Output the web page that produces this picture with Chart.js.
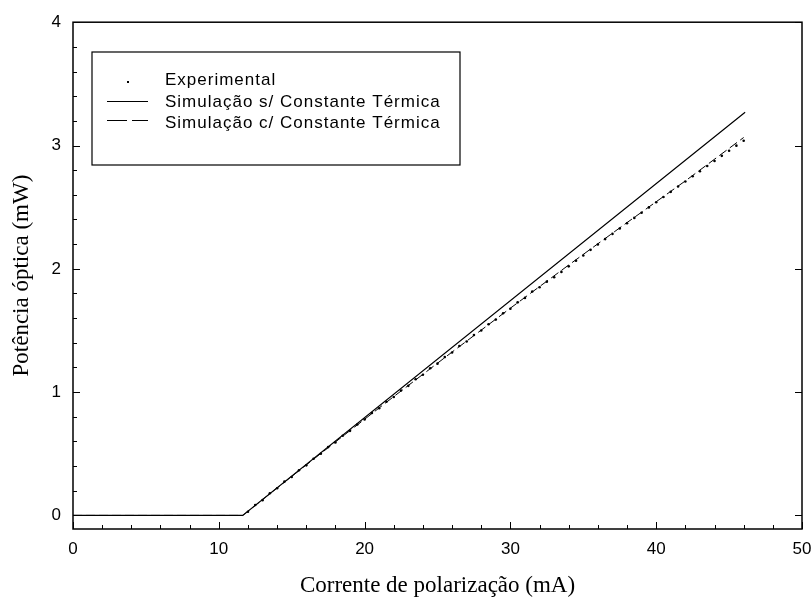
<!DOCTYPE html>
<html>
<head>
<meta charset="utf-8">
<script src="https://cdn.jsdelivr.net/npm/chart.js@4/dist/chart.umd.min.js"></script>
<style>
  html, body { margin: 0; padding: 0; background: #fff; }
  #wrap { width: 812px; height: 603px; }
</style>
</head>
<body>
<div id="wrap"><canvas id="mainChart" width="812" height="603"></canvas></div>
<script>
// tick labels
var xTicks = [0, 10, 20, 30, 40, 50]
var yTicks = [0, 1, 2, 3, 4]
var xMinorStep = 2
var yMinorStep = 0.2

// legend labels
var seriesNames = ["Experimental", "Simulação s/ Constante Térmica", "Simulação c/ Constante Térmica"]

// experimental points (mA, mW)
var expCurrent = [12, 12.5, 13, 13.5, 14, 14.5, 15, 15.5, 16, 16.5, 17, 17.5, 18, 18.5, 19, 19.5,
    20, 20.5, 21, 21.5, 22, 22.5, 23, 23.5, 24, 24.5, 25, 25.5, 26, 26.5, 27, 27.5, 28, 28.5, 29, 29.5,
    30, 30.5, 31, 31.5, 32, 32.5, 33, 33.5, 34, 34.5, 35, 35.5, 36, 36.5, 37, 37.5, 38, 38.5, 39, 39.5,
    40, 40.5, 41, 41.5, 42, 42.5, 43, 43.5, 44, 44.5, 45, 45.5, 46]
var expPower = [0.030, 0.085, 0.124, 0.180, 0.220, 0.274, 0.312, 0.367, 0.406, 0.460, 0.500, 0.554, 0.592, 0.646, 0.686, 0.738,
    0.778, 0.831, 0.869, 0.922, 0.960, 1.013, 1.051, 1.104, 1.141, 1.194, 1.231, 1.284, 1.321, 1.374, 1.410, 1.463, 1.500, 1.551, 1.588, 1.640,
    1.676, 1.728, 1.764, 1.816, 1.850, 1.896, 1.932, 1.975, 2.020, 2.066, 2.108, 2.154, 2.197, 2.241, 2.283, 2.327, 2.370, 2.413, 2.455, 2.498,
    2.540, 2.582, 2.624, 2.667, 2.708, 2.751, 2.791, 2.834, 2.874, 2.916, 2.957, 2.999, 3.038]

// simulation without thermal constant
var simSCurrent = [0, 11.64, 46.1]
var simSPower = [0, 0, 3.27]

// simulation with thermal constant
var simCCurrent = [0, 11.64, 14, 18, 22, 26, 30, 34, 38, 42, 46]
var simCPower = [0, 0, 0.223, 0.596, 0.964, 1.325, 1.681, 2.031, 2.375, 2.713, 3.065]

function toPoints(xs, ys) {
    var pts = []
    for (var i = 0; i < xs.length; i++) {
        pts.push({x: xs[i], y: ys[i]})
    }
    return pts
}

// frame, inward ticks and boxed legend
var framePlugin = {
    id: 'frame',
    afterDraw: function (chart) {
        var ctx = chart.ctx
        var a = chart.chartArea
        var xs = chart.scales.x
        var ys = chart.scales.y
        ctx.save()
        ctx.strokeStyle = '#000'
        ctx.lineWidth = 1.5
        ctx.strokeRect(a.left, a.top, a.right - a.left, a.bottom - a.top)

        ctx.lineWidth = 1
        ctx.beginPath()
        // x axis ticks (bottom)
        for (var v = xTicks[0]; v <= xTicks[xTicks.length - 1] + 0.001; v += xMinorStep) {
            var px = Math.round(xs.getPixelForValue(v)) + 0.5
            var major = xTicks.indexOf(Math.round(v)) >= 0
            ctx.moveTo(px, a.bottom)
            ctx.lineTo(px, a.bottom - (major ? 7 : 4))
        }
        // y axis ticks (left), majors on right
        for (var k = 0; k <= 20; k++) {
            var yv = k * yMinorStep
            var py = Math.round(ys.getPixelForValue(yv)) + 0.5
            var ymaj = (k % 5 == 0)
            ctx.moveTo(a.left, py)
            ctx.lineTo(a.left + (ymaj ? 7 : 4), py)
            if (ymaj) {
                ctx.moveTo(a.right, py)
                ctx.lineTo(a.right - 7, py)
            }
        }
        ctx.stroke()

        // legend box
        var bx = 92, by = 52, bw = 368, bh = 113
        ctx.lineWidth = 1.2
        ctx.strokeRect(bx, by, bw, bh)
        var rows = [85, 106.5, 127.5]
        ctx.fillStyle = '#000'
        ctx.font = '17px "Liberation Sans", Arial, sans-serif'
        ctx.letterSpacing = '1px'
        ctx.textBaseline = 'alphabetic'
        ctx.textAlign = 'left'
        for (var r = 0; r < seriesNames.length; r++) {
            ctx.fillText(seriesNames[r], 165, rows[r])
        }
        // symbols
        ctx.fillRect(127, 81, 2, 2)
        ctx.lineWidth = 1.2
        ctx.beginPath()
        ctx.moveTo(107, 101.5)
        ctx.lineTo(148, 101.5)
        ctx.stroke()
        ctx.beginPath()
        ctx.moveTo(107, 120.5)
        ctx.lineTo(127, 120.5)
        ctx.moveTo(132, 120.5)
        ctx.lineTo(148, 120.5)
        ctx.stroke()
        ctx.restore()
    }
}

window.onload = function () {
    var ctx = document.getElementById('mainChart').getContext('2d')
    var mainChart = new Chart(ctx, {
        type: 'scatter',
        data: {
            datasets: [
                {
                    label: seriesNames[0],
                    data: toPoints(expCurrent, expPower),
                    showLine: false,
                    pointRadius: 1.3,
                    pointBackgroundColor: '#000',
                    pointBorderWidth: 0,
                    order: 1
                },
                {
                    label: seriesNames[1],
                    data: toPoints(simSCurrent, simSPower),
                    showLine: true,
                    borderColor: '#000',
                    borderWidth: 1.2,
                    pointRadius: 0,
                    order: 2
                },
                {
                    label: seriesNames[2],
                    data: toPoints(simCCurrent, simCPower),
                    showLine: true,
                    borderColor: '#000',
                    borderWidth: 1,
                    borderDash: [9, 4],
                    pointRadius: 0,
                    tension: 0,
                    order: 3
                }
            ]
        },
        options: {
            responsive: false,
            animation: false,
            layout: {padding: {left: 0, right: 10, top: 18, bottom: 0}},
            plugins: {
                legend: {display: false},
                tooltip: {enabled: false}
            },
            scales: {
                x: {
                    type: 'linear',
                    min: 0,
                    max: 50,
                    afterBuildTicks: function (s) { s.ticks = xTicks.map(function (v) { return {value: v} }) },
                    afterFit: function (s) {
                        s.height = 603 - 529
                        s.paddingLeft = 0
                        s.paddingRight = 0
                    },
                    grid: {display: false, drawTicks: false},
                    border: {display: false},
                    ticks: {
                        color: '#000',
                        padding: 10,
                        maxRotation: 0,
                        font: {family: '"Liberation Sans", Arial, sans-serif', size: 17}
                    },
                    title: {
                        display: true,
                        text: 'Corrente de polarização (mA)',
                        color: '#000',
                        padding: {top: 0, bottom: 3},
                        font: {family: '"Liberation Serif", "Times New Roman", serif', size: 23}
                    }
                },
                y: {
                    type: 'linear',
                    min: -0.11,
                    max: 4,
                    afterBuildTicks: function (s) { s.ticks = yTicks.map(function (v) { return {value: v} }) },
                    afterFit: function (s) { s.width = 73 },
                    grid: {display: false, drawTicks: false},
                    border: {display: false},
                    ticks: {
                        color: '#000',
                        padding: 12,
                        font: {family: '"Liberation Sans", Arial, sans-serif', size: 17}
                    },
                    title: {
                        display: true,
                        text: 'Potência óptica (mW)',
                        color: '#000',
                        padding: {top: 8, bottom: 0},
                        font: {family: '"Liberation Serif", "Times New Roman", serif', size: 23}
                    }
                }
            }
        },
        plugins: [framePlugin]
    })
}
</script>
</body>
</html>
